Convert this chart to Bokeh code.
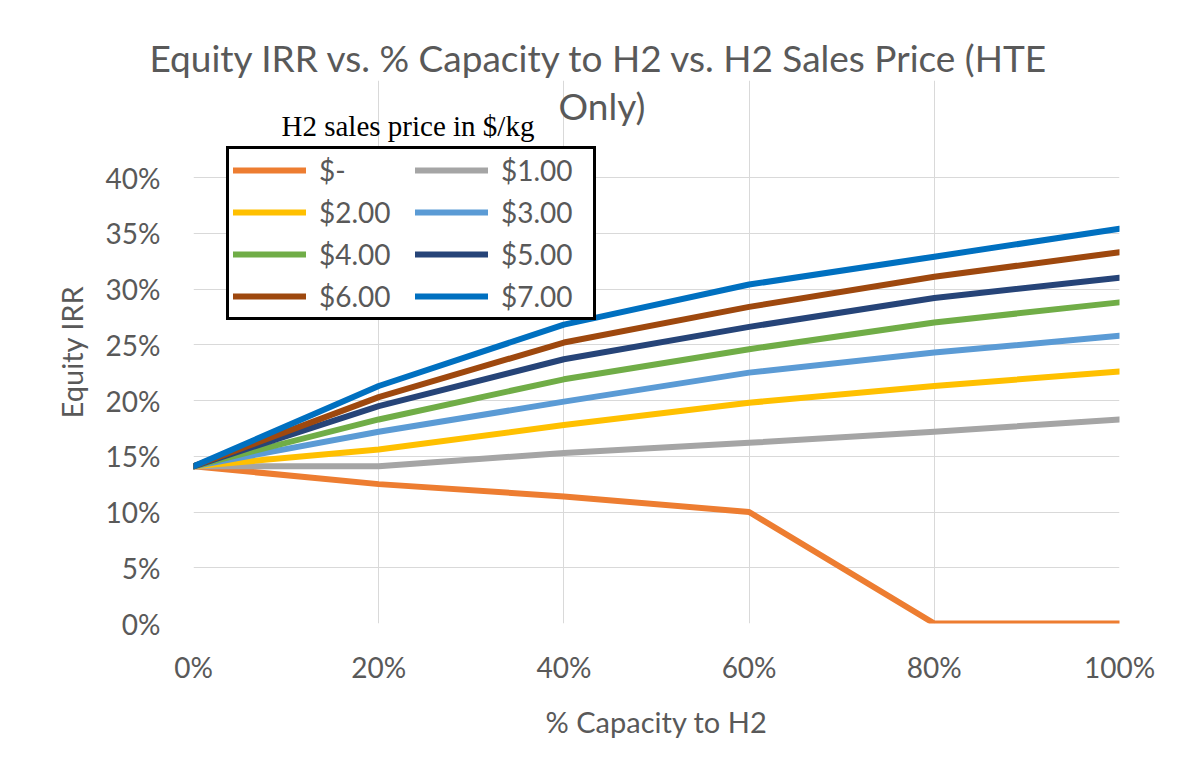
from bokeh.plotting import figure
from bokeh.models import (Legend, LegendItem, NumeralTickFormatter,
                          FixedTicker, Range1d, Title, Label)
from bokeh.embed import file_html
from bokeh.resources import INLINE

capacity = [0.0, 0.2, 0.4, 0.6, 0.8, 1.0]
price_labels = ["$-", "$1.00", "$2.00", "$3.00", "$4.00", "$5.00", "$6.00", "$7.00"]
irr_p0 = [14.1, 12.5, 11.4, 10.0, 0.0, 0.0]
irr_p1 = [14.1, 14.1, 15.3, 16.2, 17.2, 18.3]
irr_p2 = [14.1, 15.6, 17.8, 19.8, 21.3, 22.6]
irr_p3 = [14.1, 17.2, 19.9, 22.5, 24.3, 25.8]
irr_p4 = [14.1, 18.3, 21.9, 24.6, 27.0, 28.8]
irr_p5 = [14.1, 19.5, 23.7, 26.6, 29.2, 31.0]
irr_p6 = [14.1, 20.3, 25.2, 28.4, 31.1, 33.3]
irr_p7 = [14.1, 21.3, 26.8, 30.4, 32.9, 35.4]
series = [irr_p0, irr_p1, irr_p2, irr_p3, irr_p4, irr_p5, irr_p6, irr_p7]
colors = ["#ED7D31", "#A5A5A5", "#FFC000", "#5B9BD5",
          "#70AD47", "#264478", "#9E480E", "#0070C0"]
x_ticks = [0.0, 0.2, 0.4, 0.6, 0.8, 1.0]
y_ticks = [0.0, 0.05, 0.10, 0.15, 0.20, 0.25, 0.30, 0.35, 0.40]
title_line1 = "Equity IRR vs. % Capacity to H2 vs. H2 Sales Price (HTE"
title_line2 = "Only)"
legend_title_text = "H2 sales price in $/kg"

FONT = "Lato"
GRAY = "#595959"
GRID = "#d9d9d9"

# frame (page px): left 193, right 1119, top 80, bottom 623; 40% sits at 177
PX = 0.4 / 446.0
Y_TOP = 0.4 + 97 * PX

p = figure(width=1176, height=766, output_backend="svg", toolbar_location=None,
           x_range=Range1d(0, 1), y_range=Range1d(0, Y_TOP),
           min_border_left=193, min_border_right=57,
           min_border_top=80, min_border_bottom=143)
p.outline_line_color = None
p.background_fill_color = "white"
p.border_fill_color = "white"

renderers = []
for vals, col in zip(series, colors):
    r = p.line(capacity, [v / 100 for v in vals], line_color=col, line_width=6,
               line_join="round", line_cap="round")
    renderers.append(r)

for ax in (p.xaxis[0], p.yaxis[0]):
    ax.axis_line_color = None
    ax.major_tick_line_color = None
    ax.minor_tick_line_color = None
    ax.major_label_text_font = FONT
    ax.major_label_text_font_size = "28px"
    ax.major_label_text_color = GRAY
    ax.axis_label_text_font = FONT
    ax.axis_label_text_font_size = "29px"
    ax.axis_label_text_font_style = "normal"
    ax.axis_label_text_color = GRAY
    ax.formatter = NumeralTickFormatter(format="0%")

p.xaxis[0].ticker = FixedTicker(ticks=x_ticks)
p.yaxis[0].ticker = FixedTicker(ticks=y_ticks)
p.yaxis[0].bounds = (0, 0.4)
p.xaxis[0].axis_label = "% Capacity to H2"
p.yaxis[0].axis_label = "Equity IRR"
p.xaxis[0].major_label_standoff = 20
p.yaxis[0].major_label_standoff = 27
p.xaxis[0].axis_label_standoff = 17
p.yaxis[0].axis_label_standoff = 14

p.xgrid[0].grid_line_color = GRID
p.ygrid[0].grid_line_color = GRID
p.xgrid[0].ticker = FixedTicker(ticks=x_ticks)
p.ygrid[0].ticker = FixedTicker(ticks=y_ticks)
p.xgrid[0].bounds = (0, 0.4)

# chart title: first line above the frame, second line inside the (blank) top band
p.add_layout(Title(text=title_line1, align="left", offset=-44,
                   text_font=FONT, text_font_size="37px",
                   text_font_style="normal", text_color=GRAY, standoff=2), "above")
p.add_layout(Label(x=365 / 926, y=0.4 + 72 * PX, text=title_line2,
                   text_font=FONT, text_font_size="37px", text_color=GRAY,
                   text_align="left", text_baseline="alphabetic"))
p.add_layout(Label(x=88 / 926, y=0.4 + 52 * PX, text=legend_title_text,
                   text_font="Liberation Serif", text_font_size="29px", text_color="black",
                   text_align="left", text_baseline="alphabetic"))

order = [0, 2, 4, 6, 1, 3, 5, 7]   # legend columns fill top-down
items = [LegendItem(label=price_labels[i], renderers=[renderers[i]]) for i in order]
legend = Legend(items=items, ncols=2, location=(33, 303),
                glyph_width=73, glyph_height=34, label_height=34, label_width=88,
                label_standoff=13, spacing=8, padding=4, margin=0,
                label_text_font=FONT, label_text_font_size="28px",
                label_text_color=GRAY,
                border_line_color="black", border_line_width=3, border_line_alpha=1.0,
                background_fill_color="white", background_fill_alpha=1.0)
p.add_layout(legend, "center")

open("out.html", "w").write(file_html(p, INLINE))
